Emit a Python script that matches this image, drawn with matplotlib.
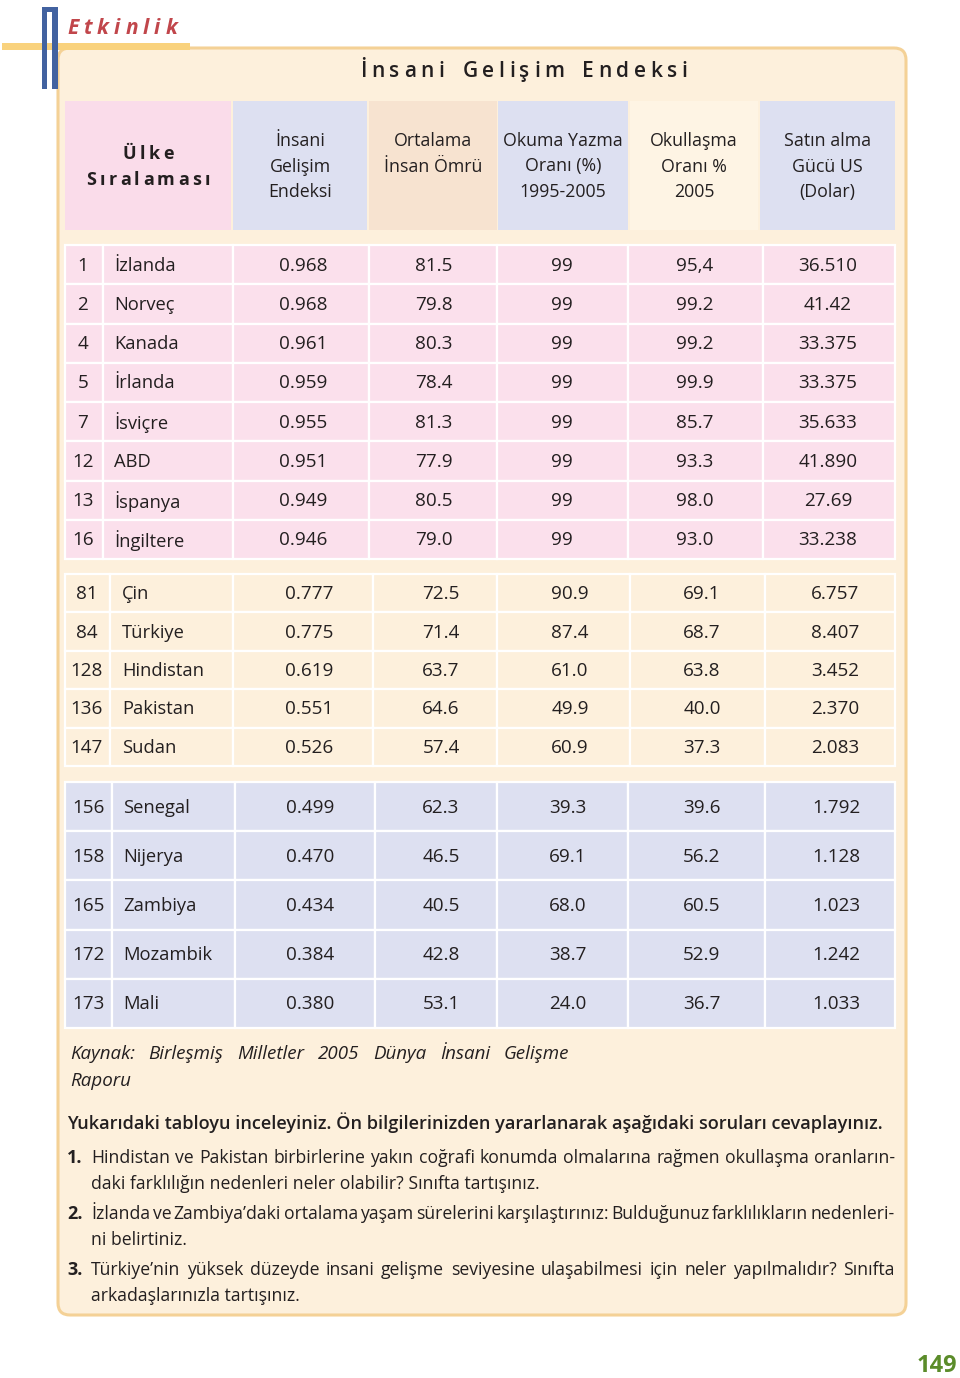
import matplotlib.pyplot as plt
from matplotlib.patches import Rectangle, FancyBboxPatch

plt.rcParams['font.family'] = ['Open Sans', 'DejaVu Sans']

# table data
headers = [['Ülke', 'Sıralaması'],
           ['İnsani', 'Gelişim', 'Endeksi'],
           ['Ortalama', 'İnsan Ömrü'],
           ['Okuma Yazma', 'Oranı (%)', '1995-2005'],
           ['Okullaşma', 'Oranı %', '2005'],
           ['Satın alma', 'Gücü US', '(Dolar)']]
ranks = ['1', '2', '4', '5', '7', '12', '13', '16', '81', '84', '128', '136', '147',
         '156', '158', '165', '172', '173']
countries = ['İzlanda', 'Norveç', 'Kanada', 'İrlanda', 'İsviçre', 'ABD', 'İspanya', 'İngiltere',
             'Çin', 'Türkiye', 'Hindistan', 'Pakistan', 'Sudan',
             'Senegal', 'Nijerya', 'Zambiya', 'Mozambik', 'Mali']
hdi = ['0.968', '0.968', '0.961', '0.959', '0.955', '0.951', '0.949', '0.946',
       '0.777', '0.775', '0.619', '0.551', '0.526',
       '0.499', '0.470', '0.434', '0.384', '0.380']
life = ['81.5', '79.8', '80.3', '78.4', '81.3', '77.9', '80.5', '79.0',
        '72.5', '71.4', '63.7', '64.6', '57.4',
        '62.3', '46.5', '40.5', '42.8', '53.1']
literacy = ['99', '99', '99', '99', '99', '99', '99', '99',
            '90.9', '87.4', '61.0', '49.9', '60.9',
            '39.3', '69.1', '68.0', '38.7', '24.0']
schooling = ['95,4', '99.2', '99.2', '99.9', '85.7', '93.3', '98.0', '93.0',
             '69.1', '68.7', '63.8', '40.0', '37.3',
             '39.6', '56.2', '60.5', '52.9', '36.7']
ppp = ['36.510', '41.42', '33.375', '33.375', '35.633', '41.890', '27.69', '33.238',
       '6.757', '8.407', '3.452', '2.370', '2.083',
       '1.792', '1.128', '1.023', '1.242', '1.033']
group_sizes = [8, 5, 5]

source = ['Kaynak:  Birleşmiş  Milletler  2005  Dünya  İnsani  Gelişme', 'Raporu']
intro = 'Yukarıdaki tabloyu inceleyiniz. Ön bilgilerinizden yararlanarak aşağıdaki soruları cevaplayınız.'
questions = [['Hindistan ve Pakistan birbirlerine yakın coğrafi konumda olmalarına rağmen okullaşma oranların-',
              'daki farklılığın nedenleri neler olabilir? Sınıfta tartışınız.'],
             ['İzlanda ve Zambiya’daki ortalama yaşam sürelerini karşılaştırınız: Bulduğunuz farklılıkların nedenleri-',
              'ni belirtiniz.'],
             ['Türkiye’nin yüksek düzeyde insani gelişme seviyesine ulaşabilmesi için neler yapılmalıdır? Sınıfta',
              'arkadaşlarınızla tartışınız.']]

TXT = '#231f20'
CREAM = '#fdf0dc'
PINK = '#fbe0ec'
LAV = '#dde0f1'

fig = plt.figure(figsize=(9.6, 13.78), dpi=100)
ax = fig.add_axes([0, 0, 1, 1])
ax.set_xlim(0, 960)
ax.set_ylim(1378, 0)
ax.axis('off')
r = fig.canvas.get_renderer()


def width_of(s, **kw):
    t = ax.text(0, 0, s, **kw)
    w = t.get_window_extent(r).width
    t.remove()
    return w


def spaced(x, y, s, track, ha='left', space=8, **kw):
    ws = [space if ch == ' ' else width_of(ch, **kw) for ch in s]
    total = sum(ws) + track * (len(s) - 1)
    cx = x - total / 2 if ha == 'center' else x
    for ch, w in zip(s, ws):
        if ch != ' ':
            ax.text(cx, y, ch, ha='left', va='center_baseline', **kw)
        cx += w + track


def justify(x0, x1, y, line, **kw):
    words = line.split()
    ws = [width_of(w, **kw) for w in words]
    gap = (x1 - x0 - sum(ws)) / (len(words) - 1)
    cx = x0
    for w, wd in zip(words, ws):
        ax.text(cx, y, w, ha='left', va='center_baseline', **kw)
        cx += wd + gap


# page frame
ax.add_patch(FancyBboxPatch((58, 48), 848, 1267, boxstyle='round,pad=0,rounding_size=12',
                            fc=CREAM, ec='#f4d196', lw=2.2))
ax.add_patch(Rectangle((2, 43), 188, 7, fc='#f9d27d', ec='none'))
ax.add_patch(Rectangle((42, 7), 5, 82, fc='#4262a0', ec='none'))
ax.add_patch(Rectangle((52, 7), 6, 82, fc='#4262a0', ec='none'))
ax.add_patch(Rectangle((42, 7), 16, 5, fc='#4262a0', ec='none'))
spaced(67, 26, 'Etkinlik', 5.0, fontsize=15, fontweight='bold', fontstyle='italic', color='#c1464b')
spaced(524, 69, 'İnsani Gelişim Endeksi', 4.5, ha='center', space=9, fontsize=15,
       fontweight='semibold', color=TXT)

# header row
head_edges = [(65, 231), (233, 367), (369, 497), (498, 628), (630, 758), (760, 895)]
head_fill = ['#fadcea', LAV, '#f7e3d0', LAV, '#fef4e4', LAV]
for (a, b), fc, lines in zip(head_edges, head_fill, headers):
    ax.add_patch(Rectangle((a, 101), b - a, 129, fc=fc, ec='none'))
    if lines[0] == 'Ülke':
        spaced((a + b) / 2, 152, lines[0], 3.5, ha='center', fontsize=13, fontweight='bold', color=TXT)
        spaced((a + b) / 2, 178, lines[1], 3.3, ha='center', fontsize=13, fontweight='bold', color=TXT)
    else:
        for k, ln in enumerate(lines):
            ax.text((a + b) / 2, 139 + 25.5 * k, ln, ha='center', va='center_baseline',
                    fontsize=12.8, color=TXT)

# body groups
groups = [dict(top=245, bottom=559, fill=PINK, edges=[65, 103, 233, 369, 497, 628, 763, 895],
               rank_x=83, name_x=114, val_x=[303, 434, 562, 695, 828]),
          dict(top=574, bottom=766, fill=CREAM, edges=[65, 110, 233, 373, 497, 630, 765, 895],
               rank_x=87, name_x=122, val_x=[309, 441, 570, 702, 835]),
          dict(top=782, bottom=1028, fill=LAV, edges=[65, 112, 235, 375, 497, 628, 765, 895],
               rank_x=89, name_x=123, val_x=[310, 441, 568, 702, 836])]

start = 0
for g, n in zip(groups, group_sizes):
    h = (g['bottom'] - g['top']) / n
    e = g['edges']
    for i in range(n):
        k = start + i
        y0 = g['top'] + i * h
        for a, b in zip(e[:-1], e[1:]):
            ax.add_patch(Rectangle((a, y0), b - a, h, fc=g['fill'], ec='white', lw=1.6))
        yc = y0 + h / 2 - 1
        ax.text(g['rank_x'], yc, ranks[k], ha='center', va='center_baseline', fontsize=13.6, color=TXT)
        ax.text(g['name_x'], yc, countries[k], ha='left', va='center_baseline', fontsize=13.2, color=TXT)
        for vx, col in zip(g['val_x'], [hdi, life, literacy, schooling, ppp]):
            ax.text(vx, yc, col[k], ha='center', va='center_baseline', fontsize=13.6, color=TXT)
    start += n

# source and questions
justify(70, 569, 1052, source[0], fontsize=13.5, fontstyle='italic', color=TXT)
ax.text(70, 1079, source[1], ha='left', va='center_baseline', fontsize=13.5, fontstyle='italic', color=TXT)
ax.text(67, 1121, intro, ha='left', va='center_baseline', fontsize=13.1, fontweight='semibold', color=TXT)

qy = [1156, 1212, 1268]
for i, (q, y) in enumerate(zip(questions, qy)):
    ax.text(67, y, f'{i + 1}.', ha='left', va='center_baseline', fontsize=13, fontweight='bold', color=TXT)
    justify(91, 895, y, q[0], fontsize=12.7, color=TXT)
    ax.text(91, y + 26, q[1], ha='left', va='center_baseline', fontsize=12.7, color=TXT)

ax.text(957, 1366, '149', ha='right', va='center', fontsize=17, fontweight='bold', color='#5b8c2a')

fig.savefig('out.png', dpi=100)
